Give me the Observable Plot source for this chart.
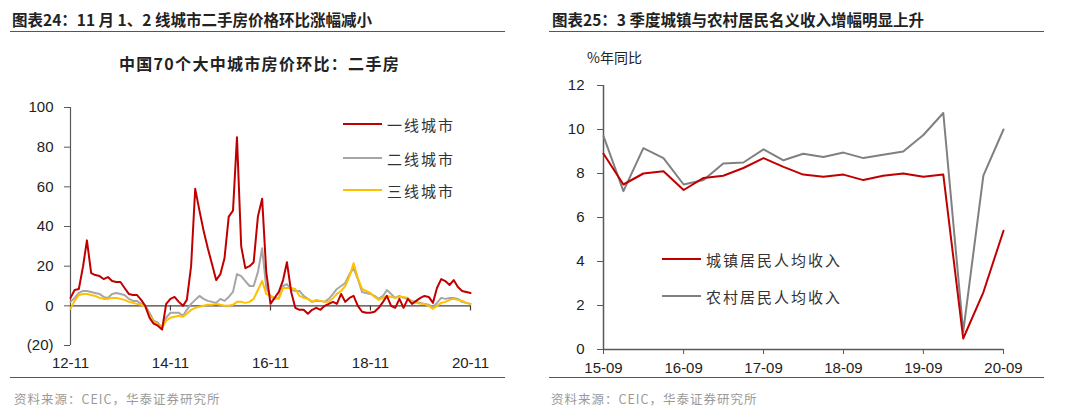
<!DOCTYPE html>
<html>
<head>
<meta charset="utf-8">
<script src="https://cdn.jsdelivr.net/npm/d3@7"></script>
<script src="https://cdn.jsdelivr.net/npm/@observablehq/plot@0.6"></script>
<style>
  html, body { margin: 0; padding: 0; background: #fff; }
  #page { position: relative; width: 1080px; height: 418px; overflow: hidden; font-family: "Noto Sans CJK SC", "Liberation Sans", sans-serif; }
  .abs { position: absolute; }
  .title { font-size: 15.5px; font-weight: bold; color: #222; white-space: nowrap; }
  .rule { height: 0; border-top: 1.5px solid #d42020; }
  .src { font-size: 12.5px; color: #9a9a9a; white-space: nowrap; letter-spacing: 1px; }
  .leg { font-size: 15px; color: #333; white-space: nowrap; display: flex; align-items: center; letter-spacing: 2px; }
  .leg span.sw { display: inline-block; width: 39px; height: 0; border-top: 2px solid; margin-right: 5px; }
</style>
</head>
<body>
<div id="page">
  <div class="abs title" style="left:12px; top:8px;">图表24：11 月 1、2 线城市二手房价格环比涨幅减小</div>
  <div class="abs rule" style="left:10px; top:31px; width:495px;"></div>
  <div class="abs title" style="left:119px; top:51px; font-size:16px; letter-spacing:1.3px;">中国70个大中城市房价环比：二手房</div>
  <div class="abs" id="left" style="left:0px; top:80px;"></div>
  <div class="abs rule" style="left:10px; top:377px; width:495px;"></div>
  <div class="abs src" style="left:14px; top:389px;">资料来源：CEIC，华泰证券研究所</div>

  <div class="abs title" style="left:552px; top:8px;">图表25：3 季度城镇与农村居民名义收入增幅明显上升</div>
  <div class="abs rule" style="left:549px; top:31px; width:495px;"></div>
  <div class="abs" style="left:587px; top:47px; font-size:14px; color:#222;">%年同比</div>
  <div class="abs" id="right" style="left:540px; top:70px;"></div>
  <div class="abs rule" style="left:549px; top:377px; width:495px;"></div>
  <div class="abs src" style="left:551px; top:389px;">资料来源：CEIC，华泰证券研究所</div>
</div>
<script>
// ---------- Left chart data: monthly, 2012-11 .. 2020-11 ----------
const leftStart = "2012-11";
const leftSeriesNames = ["一线城市", "二线城市", "三线城市"];
const leftColors = ["#c00000", "#a6a6a6", "#ffc000"];
const tier1 = [4, 8, 8.5, 20, 33, 16.5, 15.5, 15, 13.5, 14.5, 12.5, 12, 12, 9, 6, 5.5, 5.5, 3, 0, -6,
  -9, -10, -12, 1, 3.5, 4.5, 2, 0, 3, 20, 59, 48, 38, 29, 21, 13, 16, 24, 45, 48,
  85, 30, 19, 20, 22, 45, 54, 17, 1, 4, 7, 13, 22, 7, -1, -2, -2, -4, -2, -1,
  -2, 0, 1, 2, 1, 6, 2, 4, 5, 0, -3, -3.5, -3.5, -3, -1, 2, 5, 0, -1, 3.5,
  -1, 3.5, 1, 2.5, 4, 5, 4.5, 1.5, 9, 13.5, 12.5, 10.5, 13, 9.5, 7.5, 7, 6.5];
const tier2 = [2, 4, 6.5, 7.5, 7.5, 7, 6.5, 6, 4.5, 4, 6, 6.5, 6, 5.5, 3.5, 2.5, 2.5, 1, 0, -3.5,
  -7.5, -8.5, -11, -6, -3.5, -3.5, -3.5, -5, -2, 1, 3, 5, 3.5, 2.5, 2, 1.5, 3.5, 2.5, 4.5, 7,
  16, 15, 12.5, 10, 10, 17, 29, 9, 5, 3.5, 4, 10, 11, 8, 7.5, 7.5, 5, 3.5, 2, 2.5,
  2.5, 2, 3.5, 6, 8.5, 10, 11.5, 16, 19, 13.5, 7, 6.5, 6, 5, 3.5, 5, 8, 6, 4, 5,
  4, 3.5, 2.5, 2, 1.5, 1, 0.5, -0.5, 1.5, 4, 3.5, 4, 4, 3.5, 2, 1.5, 1];
const tier3 = [-1.5, 2.5, 5.5, 6, 6, 5.5, 5, 4, 3.5, 3.5, 4, 4, 3.5, 3, 2, 1.5, 1, 0.5, -0.5, -5,
  -8, -9.5, -11, -7.5, -6, -5.5, -5, -5.5, -4, -2, -1, -0.5, 0, 0.5, 0.5, 1, 0.5, 0, 0, 0.5,
  2, 2, 1.5, 2, 3.5, 8, 12.5, 6, 5, 4, 3.5, 9, 9, 9, 8.5, 5, 4, 3.5, 2, 3,
  2.5, 2, 2, 4, 6, 7.5, 10, 15, 21.5, 14, 8.5, 7.5, 6.5, 4.5, 3, 4, 5, 4.5, 4, 4.5,
  4.5, 4, 2, 1.5, 1, 1, 0, -1.5, 0, 1.5, 2, 3, 3.5, 3, 2.5, 1.5, 1];
const leftTickDates = ["2012-11", "2014-11", "2016-11", "2018-11", "2020-11"];
const leftTickLabels = ["12-11", "14-11", "16-11", "18-11", "20-11"];
const leftYTicks = [-20, 0, 20, 40, 60, 80, 100];

// ---------- Right chart data: quarterly, 2015-09 .. 2020-09 ----------
const rightStart = "2015-09";
const rightSeriesNames = ["城镇居民人均收入", "农村居民人均收入"];
const rightColors = ["#c00000", "#808080"];
const urban = [8.9, 7.5, 8.0, 8.1, 7.25, 7.8, 7.9, 8.25, 8.7, 8.3, 7.95, 7.85, 7.95, 7.7, 7.9, 8.0, 7.85, 7.95, 0.5, 2.6, 5.4];
const rural = [9.7, 7.2, 9.15, 8.7, 7.5, 7.7, 8.45, 8.5, 9.1, 8.6, 8.9, 8.75, 8.95, 8.7, 8.85, 9.0, 9.75, 10.75, 0.8, 7.9, 10.0];
const rightTickDates = ["2015-09", "2016-09", "2017-09", "2018-09", "2019-09", "2020-09"];
const rightTickLabels = ["15-09", "16-09", "17-09", "18-09", "19-09", "20-09"];
const rightYTicks = [0, 2, 4, 6, 8, 10, 12];

const parse = d3.utcParse("%Y-%m");

// ---------- Build left ----------
const l0 = parse(leftStart);
const leftRows = [];
[tier1, tier2, tier3].forEach((arr, s) => arr.forEach((v, i) => leftRows.push({date: d3.utcMonth.offset(l0, i), value: v, series: leftSeriesNames[s]})));
const lTicks = leftTickDates.map(parse);
const lFmt = new Map(lTicks.map((d, i) => [+d, leftTickLabels[i]]));
const numFmt = v => v < 0 ? `(${-v})` : `${v}`;

const leftPlot = Plot.plot({
  width: 510, height: 300,
  marginLeft: 70, marginRight: 40, marginTop: 27, marginBottom: 35,
  style: {fontFamily: "'Liberation Sans', Arial, sans-serif", fontSize: "15px", color: "#222", background: "transparent"},
  x: {type: "utc", domain: [lTicks[0], lTicks[lTicks.length - 1]]},
  y: {domain: [-20, 100]},
  color: {domain: leftSeriesNames, range: leftColors},
  marks: [
    Plot.axisY({ticks: leftYTicks, tickFormat: numFmt, tickSize: 6, tickPadding: 11, stroke: "#595959", label: null}),
    Plot.axisX({ticks: lTicks, tickFormat: d => lFmt.get(+d), tickSize: 0, tickPadding: 12, label: null}),
    Plot.ruleX([lTicks[0]], {y1: -20, y2: 100, stroke: "#595959", strokeWidth: 1.2}),
    Plot.ruleX(lTicks.slice(1), {y1: 0, y2: -2.6, stroke: "#404040", strokeWidth: 1.2}),
    Plot.ruleY([0], {stroke: "#404040", strokeWidth: 1.2}),
    Plot.line(leftRows.filter(d => d.series === leftSeriesNames[1]), {x: "date", y: "value", stroke: "series", strokeWidth: 2}),
    Plot.line(leftRows.filter(d => d.series === leftSeriesNames[2]), {x: "date", y: "value", stroke: "series", strokeWidth: 2}),
    Plot.line(leftRows.filter(d => d.series === leftSeriesNames[0]), {x: "date", y: "value", stroke: "series", strokeWidth: 2})
  ]
});
document.getElementById("left").appendChild(leftPlot);

// ---------- Build right ----------
const r0 = parse(rightStart);
const rightRows = [];
[urban, rural].forEach((arr, s) => arr.forEach((v, i) => rightRows.push({date: d3.utcMonth.offset(r0, 3 * i), value: v, series: rightSeriesNames[s]})));
const rTicks = rightTickDates.map(parse);
const rFmt = new Map(rTicks.map((d, i) => [+d, rightTickLabels[i]]));

const rightPlot = Plot.plot({
  width: 540, height: 310,
  marginLeft: 63, marginRight: 77, marginTop: 15, marginBottom: 31,
  style: {fontFamily: "'Liberation Sans', Arial, sans-serif", fontSize: "15px", color: "#222", background: "transparent"},
  x: {type: "utc", domain: [rTicks[0], rTicks[rTicks.length - 1]]},
  y: {domain: [0, 12]},
  color: {domain: rightSeriesNames, range: rightColors},
  marks: [
    Plot.axisY({ticks: rightYTicks, tickSize: 6, tickPadding: 13, stroke: "#595959", label: null}),
    Plot.axisX({ticks: rTicks, tickFormat: d => rFmt.get(+d), tickSize: 5, tickPadding: 8, stroke: "#595959", label: null}),
    Plot.ruleX([rTicks[0]], {y1: 0, y2: 12, stroke: "#595959", strokeWidth: 1.5}),
    Plot.ruleY([0], {stroke: "#595959", strokeWidth: 1.5}),
    Plot.line(rightRows.filter(d => d.series === rightSeriesNames[1]), {x: "date", y: "value", stroke: "series", strokeWidth: 2}),
    Plot.line(rightRows.filter(d => d.series === rightSeriesNames[0]), {x: "date", y: "value", stroke: "series", strokeWidth: 2})
  ]
});
document.getElementById("right").appendChild(rightPlot);

// ---------- Legends (HTML) ----------
const page = document.getElementById("page");
function legend(names, colors, left, tops) {
  names.forEach((n, i) => {
    const el = document.createElement("div");
    el.className = "abs leg";
    el.style.left = left + "px";
    el.style.top = (tops[i] - 11) + "px";
    el.style.height = "22px";
    const sw = document.createElement("span");
    sw.className = "sw";
    sw.style.borderColor = colors[i];
    el.appendChild(sw);
    el.appendChild(document.createTextNode(n));
    page.appendChild(el);
  });
}
legend(leftSeriesNames, leftColors, 343, [124, 158, 190]);
legend(rightSeriesNames, rightColors, 662, [259, 296]);
</script>
</body>
</html>
